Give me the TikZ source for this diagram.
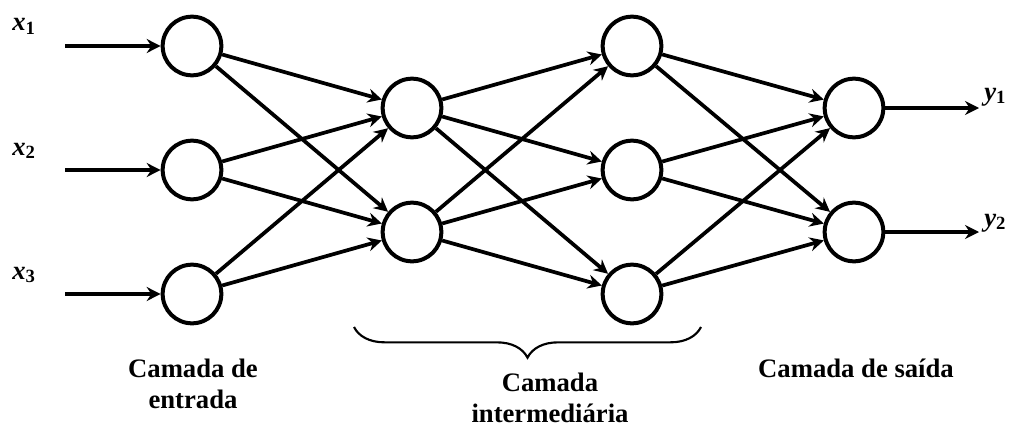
\documentclass[tikz,border=0pt]{standalone}
\usepackage{fontspec}
\setmainfont{Liberation Serif}
\usetikzlibrary{arrows.meta,decorations.pathreplacing}
\newcommand{\vsub}[2]{\textbf{\textit{#1}}\raisebox{-0.3ex}{\fontsize{14}{15}\selectfont\bfseries #2}}
\begin{document}
\begin{tikzpicture}[x=0.75pt,y=-0.75pt,
  neuron/.style={circle,draw,line width=3pt,minimum size=44pt,inner sep=0pt},
  conn/.style={line width=2.8pt,-{Stealth[length=10.5pt,width=10.5pt,inset=3.5pt]}},
  lbl/.style={font=\bfseries\fontsize{20}{23}\selectfont,align=center,anchor=base},
  var/.style={font=\fontsize{20}{22}\selectfont,anchor=base west,inner sep=0pt}]
\useasboundingbox (0,0) rectangle (1009,428);
\node[neuron] (a1) at (192,46) {};
\node[neuron] (a2) at (192,170) {};
\node[neuron] (a3) at (192,294) {};
\node[neuron] (b1) at (412,108) {};
\node[neuron] (b2) at (412,232) {};
\node[neuron] (c1) at (632,46) {};
\node[neuron] (c2) at (632,170) {};
\node[neuron] (c3) at (632,294) {};
\node[neuron] (d1) at (854,108) {};
\node[neuron] (d2) at (854,232) {};
\coordinate (i1) at (65,46);
\coordinate (i2) at (65,170);
\coordinate (i3) at (65,294);
\coordinate (o1) at (979,108);
\coordinate (o2) at (979,232);
\node[var] (x1) at (12,31) {\vsub{x}{1}};
\node[var] (x2) at (12,155) {\vsub{x}{2}};
\node[var] (x3) at (12,279) {\vsub{x}{3}};
\node[var] (y1) at (984,100) {\vsub{y}{1}};
\node[var] (y2) at (984,226) {\vsub{y}{2}};
\foreach \k in {1,2,3} \draw[conn] (i\k) -- (a\k);
\foreach \k in {1,2} \draw[conn] (d\k) -- (o\k);
\foreach \s in {1,2,3} \foreach \t in {1,2} \draw[conn] (a\s) -- (b\t);
\foreach \s in {1,2} \foreach \t in {1,2,3} \draw[conn] (b\s) -- (c\t);
\foreach \s in {1,2,3} \foreach \t in {1,2} \draw[conn] (c\s) -- (d\t);
\coordinate (bl) at (354,327);
\coordinate (br) at (701,327);
\draw[line width=1.6pt,decorate,decoration={brace,mirror,amplitude=23pt,aspect=0.5}] (bl) -- (br);
\node[lbl] (L1) at (193,408) {Camada de\\entrada};
\node[lbl] (L2) at (550,422) {Camada\\intermediária};
\node[lbl] (L3) at (856,377) {Camada de saída};
\end{tikzpicture}
\end{document}
